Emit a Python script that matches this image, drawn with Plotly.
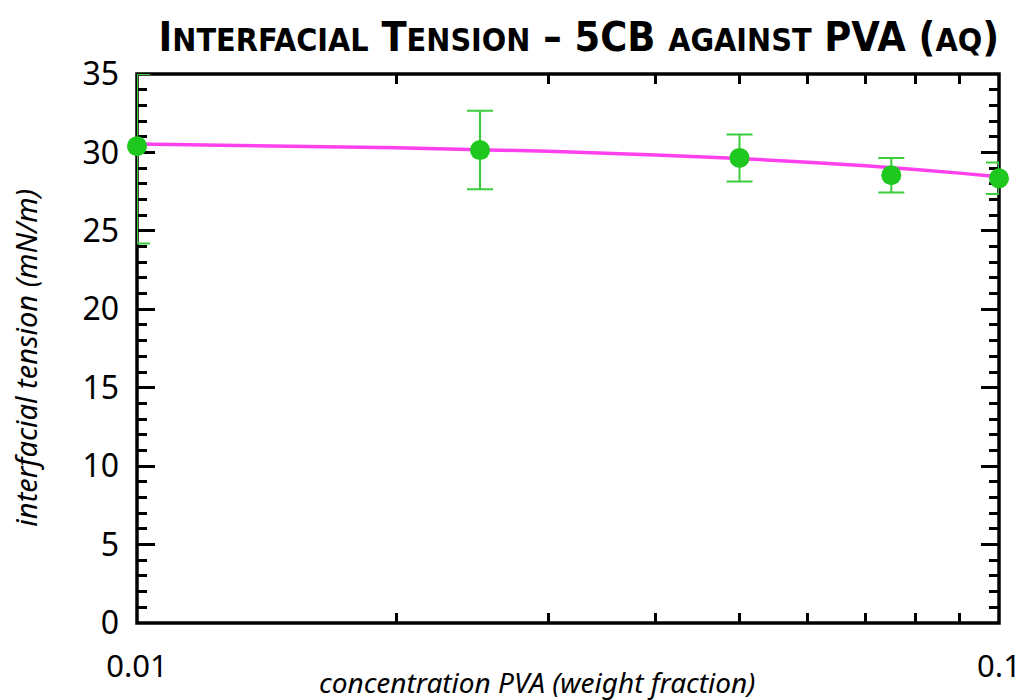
import plotly.graph_objects as go

# data
conc = [0.01, 0.025, 0.05, 0.075, 0.1]
tension = [30.4, 30.15, 29.65, 28.55, 28.35]
err_plus = [4.6, 2.5, 1.5, 1.1, 1.0]
err_minus = [6.2, 2.5, 1.5, 1.1, 1.0]

fit_x = [0.01, 0.02, 0.03, 0.04, 0.05, 0.06, 0.07, 0.08, 0.09, 0.1]
fit_y = [30.53, 30.30, 30.07, 29.84, 29.61, 29.38, 29.15, 28.91, 28.68, 28.45]

x_tickvals = [0.01, 0.02, 0.03, 0.04, 0.05, 0.06, 0.07, 0.08, 0.09, 0.1]
x_ticktext = ["0.01", "", "", "", "", "", "", "", "", "0.1"]
y_tickvals = [0, 5, 10, 15, 20, 25, 30, 35]

x_title = "concentration PVA (weight fraction)"
y_title = "interfacial tension (mN/m)"

GREEN = "#1ec81e"
ERRGREEN = "#3acc3a"
MAGENTA = "#ff40ee"

fig = go.Figure()
fig.add_trace(go.Scatter(
    x=fit_x, y=fit_y, mode="lines",
    line=dict(color=MAGENTA, width=3.5, shape="spline"),
    cliponaxis=False, showlegend=False, hoverinfo="skip"))
fig.add_trace(go.Scatter(
    x=conc, y=tension, mode="markers",
    marker=dict(color=GREEN, size=20),
    error_y=dict(type="data", symmetric=False, array=err_plus, arrayminus=err_minus,
                 color=ERRGREEN, thickness=2, width=13),
    cliponaxis=False, showlegend=False))

sc = "font-size:32px"
title = ("I<span style='%s'>NTERFACIAL</span> T<span style='%s'>ENSION</span> – 5CB "
         "<span style='%s'>AGAINST</span> PVA (<span style='%s'>AQ</span>)") % (sc, sc, sc, sc)

fig.update_layout(
    width=1026, height=700,
    margin=dict(l=137, r=27, t=74, b=77),
    paper_bgcolor="white", plot_bgcolor="white",
    title=dict(text=title, x=1.0, xref="paper", xanchor="right",
               y=1 - 37 / 700, yref="container", yanchor="middle",
               font=dict(family="DejaVu Sans Condensed, Liberation Sans Narrow, sans-serif",
                         size=41, color="black", weight="bold")),
    xaxis=dict(type="log", range=[-2.0000001, -0.9999999], automargin=False,
               tickmode="array", tickvals=x_tickvals, ticktext=x_ticktext,
               ticks="inside", ticklen=10, tickwidth=3, tickcolor="black",
               showline=False, mirror="allticks",
               showgrid=False, zeroline=False, layer="below traces",
               tickfont=dict(family="Noto Sans, sans-serif", size=31, color="black"),
               ticklabelstandoff=22),
    yaxis=dict(range=[0, 35], automargin=False, tickmode="array", tickvals=y_tickvals,
               ticks="inside", ticklen=18, tickwidth=3, tickcolor="black",
               minor=dict(dtick=1, ticks="inside", ticklen=10, tickwidth=3, tickcolor="black"),
               showline=False, mirror="allticks",
               showgrid=False, zeroline=False, layer="below traces",
               tickfont=dict(family="Noto Sans, sans-serif", size=32, color="black"),
               ticklabelstandoff=17),
    shapes=[dict(type="rect", xref="paper", yref="paper", x0=0, y0=0, x1=1, y1=1,
                 line=dict(color="black", width=3.5), layer="below")],
    annotations=[
        dict(text=x_title, xref="paper", yref="paper", x=0.464, y=-0.108,
             xanchor="center", yanchor="middle", showarrow=False,
             font=dict(family="Noto Sans, sans-serif", size=28, color="black", style="italic")),
        dict(text=y_title, xref="paper", yref="paper", x=-0.129, y=0.483,
             xanchor="center", yanchor="middle", showarrow=False, textangle=-90,
             font=dict(family="Noto Sans, sans-serif", size=29, color="black", style="italic")),
    ],
)

fig.write_html("out.html")
